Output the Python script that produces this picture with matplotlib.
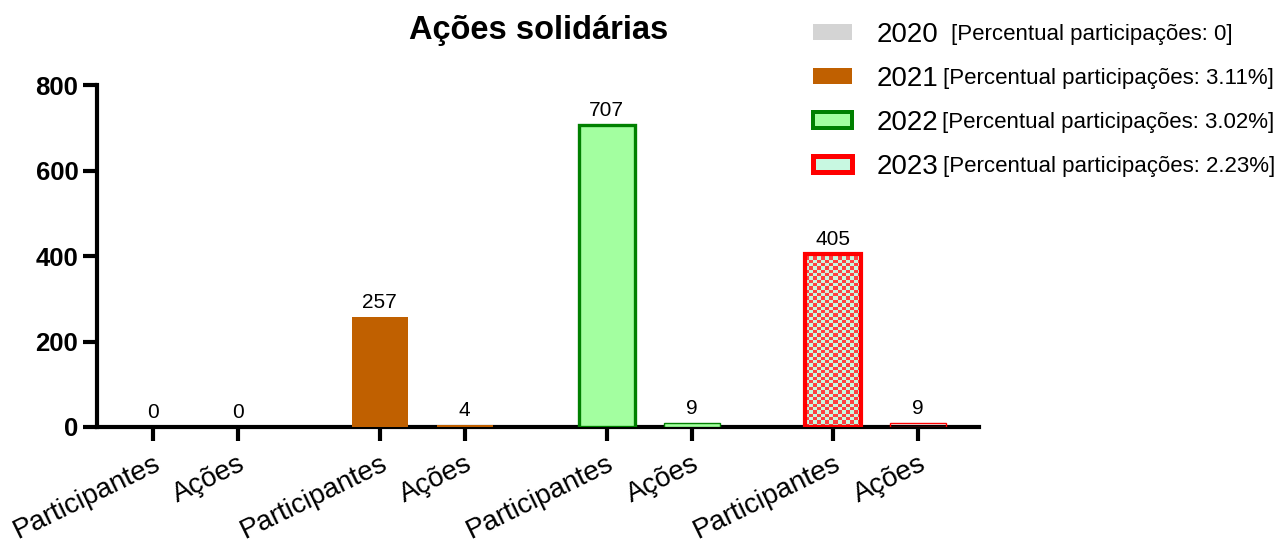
import matplotlib.pyplot as plt
import numpy as np
from matplotlib.patches import Rectangle

plt.rcParams['font.family'] = ['Liberation Sans', 'DejaVu Sans']

# Data
anos = ["2020", "2021", "2022", "2023"]
participantes = [0, 257, 707, 405]
acoes = [0, 4, 9, 9]
percentuais = ["0", "3.11%", "3.02%", "2.23%"]
categorias = ["Participantes", "Ações"]

faces = ["#d4d4d4", "#c06000", "#a3ffa0", "#ff4040"]
edges = ["#d4d4d4", "#c06000", "#008000", "#ff0000"]
edge_widths = [0, 0, 2.4, 3.0]

fig = plt.figure(figsize=(12.77, 5.46), dpi=100)
ax = fig.add_axes([0.076, 0.218, 0.691, 0.626])

group_step = 2.67
bar_w = 0.66
positions = []
labels = []
handles = []
for i, ano in enumerate(anos):
    x0 = i * group_step
    xs = [x0, x0 + 1]
    vals = [participantes[i], acoes[i]]
    for x, v in zip(xs, vals):
        lw = edge_widths[i] if v > 20 else min(edge_widths[i], 1.0)
        if ano == "2023":
            bar = ax.bar(x, v, width=bar_w, facecolor="none", edgecolor=edges[i],
                         linewidth=lw, zorder=3)[0]
            if v > 20:
                # checkerboard fill
                ny = int(round(v / 7.8))
                nx = 14
                chk = (np.indices((ny, nx)).sum(axis=0) % 2)
                img = np.where(chk[..., None] == 1,
                               np.array([255, 64, 64]) / 255,
                               np.array([200, 248, 225]) / 255)
                im = ax.imshow(img, extent=[x - bar_w / 2, x + bar_w / 2, 0, v],
                               aspect="auto", interpolation="nearest", zorder=2)
                im.set_clip_path(bar)
        else:
            ax.bar(x, v, width=bar_w, color=faces[i], edgecolor=edges[i],
                   linewidth=lw, zorder=3)
        ax.text(x, v + 12, f"{v}", ha="center", va="bottom", fontsize=15, zorder=4)
        positions.append(x)
    labels += categorias
    handles.append(Rectangle((0, 0), 1, 1, facecolor=faces[i] if ano != "2023" else "#c8f8e1",
                             edgecolor=edges[i], linewidth=edge_widths[i] * 1.2))

ax.set_xlim(-0.66, 9.73)
ax.set_ylim(0, 800)
ax.set_yticks([0, 200, 400, 600, 800])
ax.set_xticks(positions)
ax.set_xticklabels(labels, rotation=26, ha="right", rotation_mode="anchor", fontsize=20)
for lab in ax.get_yticklabels():
    lab.set_fontweight("bold")
    lab.set_fontsize(18.5)
ax.tick_params(axis="both", width=3, length=10)
ax.tick_params(axis="x", pad=7)
for side in ["top", "right"]:
    ax.spines[side].set_visible(False)
for side in ["left", "bottom"]:
    ax.spines[side].set_linewidth(3)

ax.set_title("Ações solidárias", fontsize=23.5, fontweight="bold", pad=33)

leg = fig.legend(handles, anos, loc="upper left", bbox_to_anchor=(0.617, 1.006),
                 frameon=False, fontsize=20, handlelength=1.4, handleheight=0.5,
                 labelspacing=0.65, handletextpad=0.9)

fig.canvas.draw()
renderer = fig.canvas.get_renderer()
inv = fig.transFigure.inverted()
for t, pct in zip(leg.get_texts(), percentuais):
    bb = t.get_window_extent(renderer)
    gap = 12 if pct == "0" else 4
    x1, yc = inv.transform((bb.x1 + gap, (bb.y0 + bb.y1) / 2))
    fig.text(x1, yc, f"[Percentual participações: {pct}]", fontsize=16,
             ha="left", va="center")

fig.savefig("out.png", dpi=100)
